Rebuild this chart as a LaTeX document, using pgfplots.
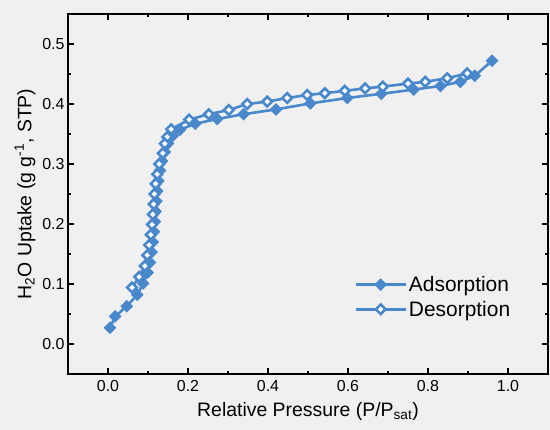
\documentclass[border=0pt]{standalone}
\usepackage{fontspec}
\setmainfont{Liberation Sans}
\usepackage{pgfplots}
\pgfplotsset{compat=1.18}
\definecolor{bg}{RGB}{240,240,240}
\definecolor{lblue}{RGB}{74,136,204}

\begin{document}
\begin{tikzpicture}
\useasboundingbox (-68bp,-56bp) rectangle (482bp,374bp);
\fill[bg] (-68bp,-56bp) rectangle (482bp,374bp);
\begin{axis}[
  at={(0,0)}, anchor=south west,
  scale only axis, width=480bp, height=360bp,
  xmin=-0.1, xmax=1.1, ymin=-0.05, ymax=0.55,
  xtick={0,0.2,0.4,0.6,0.8,1.0},
  ytick={0,0.1,0.2,0.3,0.4,0.5},
  minor x tick num=1, minor y tick num=1,
  tick align=inside, major tick length=6bp, minor tick length=3.5bp,
  axis line style={line width=1.5bp},
  every tick/.style={black, line width=1.2bp},
  /pgf/number format/assume math mode=true,
  tick label style={font=\fontsize{16}{19}\selectfont},
  xticklabel style={yshift=-3bp, /pgf/number format/fixed, /pgf/number format/fixed zerofill, /pgf/number format/precision=1},
  yticklabel style={/pgf/number format/fixed, /pgf/number format/fixed zerofill, /pgf/number format/precision=1},
  xlabel={Relative Pressure (P/P\textsubscript{sat})},
  ylabel={H\textsubscript{2}O Uptake (g g\textsuperscript{-1}, STP)},
  label style={font=\fontsize{19.5}{23}\selectfont},
  xlabel style={yshift=-4bp},
  legend style={draw=none, fill=none, font=\fontsize{21}{25}\selectfont,
    at={(0.59,0.214)}, anchor=west, row sep=4bp},
  legend cell align=left,
  legend image code/.code={\draw[mark repeat=2, mark phase=2] plot coordinates {(0bp,0bp) (25bp,0bp) (50bp,0bp)};},
]
\addplot[lblue, line width=2.6bp, mark=square*, mark size=3.2bp, mark options={solid, rotate=45, fill=lblue}] coordinates {
(0.005,0.027) (0.018,0.046) (0.047,0.063) (0.073,0.082) (0.088,0.101)
(0.099,0.119) (0.105,0.136) (0.109,0.153) (0.112,0.170) (0.115,0.187)
(0.117,0.204) (0.119,0.221) (0.121,0.238) (0.123,0.255) (0.126,0.272)
(0.130,0.289) (0.135,0.305) (0.142,0.320) (0.150,0.334) (0.162,0.347)
(0.180,0.357) (0.218,0.367) (0.273,0.375) (0.339,0.383) (0.420,0.391)
(0.506,0.401) (0.598,0.410) (0.683,0.417) (0.764,0.424) (0.831,0.430)
(0.881,0.437) (0.917,0.447) (0.960,0.472)
};
\addplot[lblue, line width=2.6bp, mark=square*, mark size=3.4bp, mark options={solid, rotate=45, fill=white}] coordinates {
(0.898,0.451) (0.848,0.443) (0.793,0.437) (0.750,0.434) (0.687,0.429)
(0.643,0.426) (0.592,0.422) (0.542,0.418) (0.498,0.415) (0.448,0.410)
(0.398,0.404) (0.348,0.400) (0.302,0.390) (0.252,0.383) (0.203,0.374)
(0.158,0.358) (0.148,0.345) (0.142,0.334) (0.137,0.318) (0.128,0.300)
(0.123,0.283) (0.119,0.267) (0.116,0.250) (0.114,0.233) (0.112,0.216)
(0.110,0.199) (0.107,0.182) (0.103,0.165) (0.098,0.148) (0.092,0.130)
(0.078,0.112) (0.060,0.094)
};
\legend{Adsorption, Desorption}
\end{axis}
\end{tikzpicture}
\end{document}
